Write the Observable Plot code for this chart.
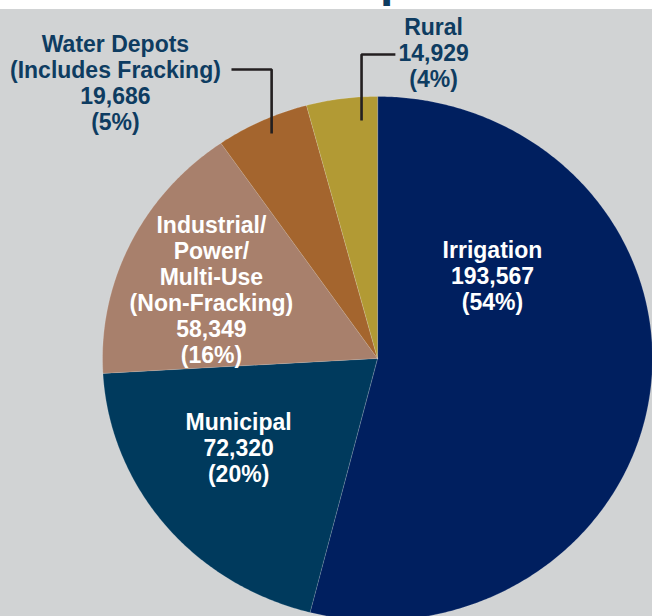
<!DOCTYPE html>
<html><head><meta charset="utf-8">
<script src="https://cdn.jsdelivr.net/npm/d3@7"></script>
<script src="https://cdn.jsdelivr.net/npm/@observablehq/plot@0.6"></script>
<style>
body{margin:0;background:#d1d3d4;width:652px;height:616px;overflow:hidden;font-family:"Liberation Sans",Arial,sans-serif}
#head{position:relative;height:9px;background:#fff;overflow:hidden}
#head span{position:absolute;left:380px;top:-44px;font-size:48px;font-weight:bold;color:#0e3c61;line-height:1}
#chart svg{display:block}
</style></head><body>
<div id="head"><span>p</span></div>
<div id="chart"></div>
<script>
// ---- data ----
const categories = ["Irrigation", "Municipal", "Industrial/Power/Multi-Use (Non-Fracking)", "Water Depots (Includes Fracking)", "Rural"];
const labelNames = ["Irrigation", "Municipal", "Industrial/\nPower/\nMulti-Use\n(Non-Fracking)", "Water Depots\n(Includes Fracking)", "Rural"];
const values = [193567, 72320, 58349, 19686, 14929];

// ---- styling / layout (not data) ----
const colors = ["#001f5f", "#003a5d", "#a8806c", "#a4652e", "#b29a34"];
const textColors = ["#ffffff", "#ffffff", "#ffffff", "#0e3c61", "#0e3c61"];
const labelPos = [[0.418, 0.3145], [-0.505, -0.342], [-0.604, 0.261], [-0.953, 1.053], [0.204, 1.168]];
const leaderLines = [
  {id: "water", pts: [[-0.531, 1.103], [-0.385, 1.103], [-0.385, 0.859]]},
  {id: "rural", pts: [[-0.058, 0.908], [-0.058, 1.160], [0.065, 1.160]]}
];

const total = d3.sum(values);
const fmt = d3.format(",");
const arcs = d3.pie().sort(null).value(d => d)(values);
const slicePts = [];
arcs.forEach((a, i) => {
  slicePts.push({cat: categories[i], x: 0, y: 0});
  const n = Math.max(2, Math.ceil((a.endAngle - a.startAngle) / (Math.PI / 360)));
  for (let k = 0; k <= n; k++) {
    const t = a.startAngle + (a.endAngle - a.startAngle) * k / n;
    slicePts.push({cat: categories[i], x: Math.sin(t), y: Math.cos(t)});
  }
});
const labels = categories.map((c, i) => ({
  text: `${labelNames[i]}\n${fmt(values[i])}\n(${Math.round(values[i] / total * 100)}%)`,
  x: labelPos[i][0], y: labelPos[i][1], fill: textColors[i]
}));
const leaders = leaderLines.flatMap(l => l.pts.map(([x, y]) => ({id: l.id, x, y})));

const chart = Plot.plot({
  width: 652, height: 607,
  margin: 0, marginLeft: 102,
  x: {domain: [-1, 1], axis: null},
  y: {domain: [-0.9847, 1.332], axis: null},
  color: {domain: categories, range: colors},
  style: {background: "#d1d3d4", fontFamily: "'Liberation Sans', Arial, sans-serif", overflow: "hidden"},
  marks: [
    Plot.line(slicePts, {x: "x", y: "y", z: "cat", fill: "cat", stroke: "#ffffff", strokeOpacity: 0.25, strokeWidth: 0.7, curve: "linear-closed", clip: true}),
    Plot.line(leaders, {x: "x", y: "y", z: "id", stroke: "#231f20", strokeWidth: 2.6, strokeLinejoin: "miter", strokeLinecap: "butt"}),
    Plot.text(labels, {x: "x", y: "y", text: "text", fill: "fill", fontSize: 23, fontWeight: "bold", lineHeight: 1.13, textAnchor: "middle", lineAnchor: "middle"})
  ]
});
document.getElementById("chart").appendChild(chart);
</script>
</body></html>
